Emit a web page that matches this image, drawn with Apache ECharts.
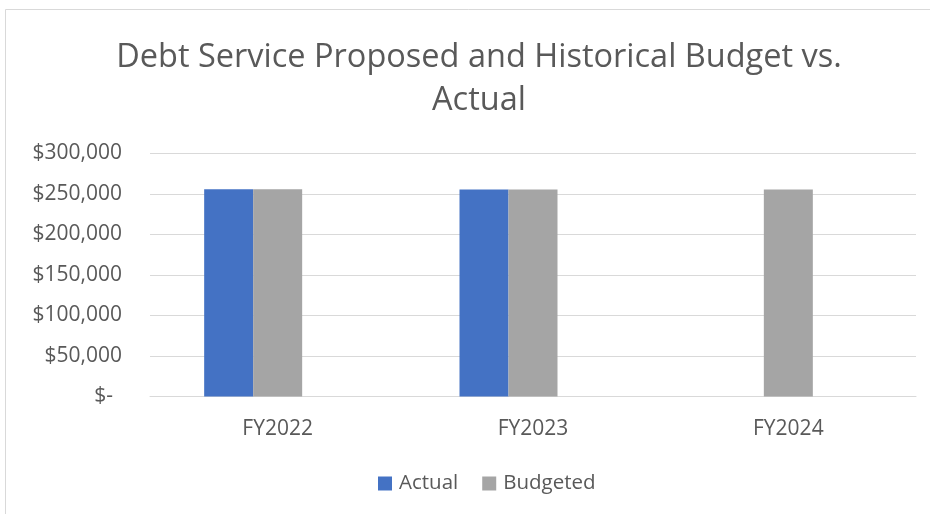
<!DOCTYPE html>
<html><head><meta charset="utf-8">
<script src="https://cdn.jsdelivr.net/npm/echarts@6/dist/echarts.min.js"></script>
<style>html,body{margin:0;padding:0;background:#fff}#c{width:930px;height:514px}</style>
</head><body><div id="c"></div>
<script>
const categories = ['FY2022', 'FY2023', 'FY2024'];
const actual = [256000, 255500, null];
const budgeted = [256000, 255500, 255500];
const spacer = [null, null, null];
const yTicks = [0, 50000, 100000, 150000, 200000, 250000, 300000];

const chart = echarts.init(document.getElementById('c'));
const fontFam = '"Open Sans", "Liberation Sans", sans-serif';
function fmt(v) {
  if (v === 0) return '{z|$-}';
  return '$' + v.toLocaleString('en-US');
}
chart.setOption({
  animation: false,
  backgroundColor: '#fff',
  graphic: [{
    type: 'rect', shape: { x: 5.5, y: 9.5, width: 940, height: 520 },
    style: { fill: 'none', stroke: '#d9d9d9', lineWidth: 1 }, silent: true, z: -1
  }],
  title: {
    text: 'Debt Service Proposed and Historical Budget vs.\nActual',
    left: 474, top: 31, textAlign: 'center',
    textStyle: { fontFamily: fontFam, fontSize: 32.5, fontWeight: 'normal', color: '#595959', lineHeight: 43 }
  },
  legend: {
    data: ['Actual', 'Budgeted'],
    top: 468, left: 373,
    itemWidth: 14, itemHeight: 14, itemGap: 24,
    icon: 'rect',
    textStyle: { fontFamily: fontFam, fontSize: 20.5, color: '#595959', padding: [0, 0, 0, 2] }
  },
  grid: { left: 150, right: 14, top: 153.5, bottom: 117.5, containLabel: false },
  xAxis: {
    type: 'category', data: categories,
    axisLine: { lineStyle: { color: '#d9d9d9' } },
    axisTick: { show: false },
    axisLabel: { fontFamily: fontFam, fontSize: 21, color: '#595959', margin: 22 }
  },
  yAxis: {
    type: 'value', min: yTicks[0], max: yTicks[yTicks.length - 1], interval: 50000,
    axisLine: { show: false }, axisTick: { show: false },
    splitLine: { lineStyle: { color: '#d9d9d9', width: 1 } },
    axisLabel: {
      fontFamily: fontFam, fontSize: 21, color: '#595959', margin: 28, formatter: fmt,
      rich: { z: { fontFamily: fontFam, fontSize: 21, color: '#595959', padding: [0, 9, 0, 0] } }
    }
  },
  series: [
    { name: 'Actual', type: 'bar', data: actual, barWidth: 49, barGap: '0%', itemStyle: { color: '#4472C4' } },
    { name: 'Budgeted', type: 'bar', data: budgeted, barWidth: 49, barGap: '0%', itemStyle: { color: '#A5A5A5' } },
    { name: 'Spacer', type: 'bar', data: spacer, barWidth: 49, barGap: '0%', itemStyle: { color: 'transparent' } }
  ]
});
</script></body></html>
